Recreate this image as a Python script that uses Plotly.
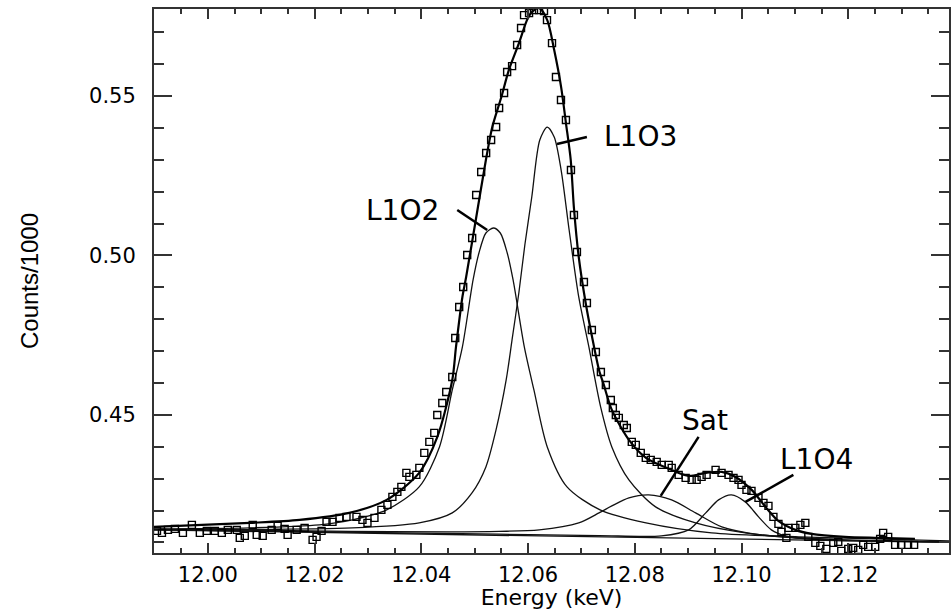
import plotly.graph_objects as go

# ---------------- data ----------------
data_energy = [11.99047, 11.99140, 11.99252, 11.99383, 11.99533, 11.99701, 11.99850, 11.99981,
               12.00131, 12.00262, 12.00374, 12.00542, 12.00598, 12.00692, 12.00841, 12.00916,
               12.01028, 12.01196, 12.01308, 12.01439, 12.01495, 12.01664, 12.01813, 12.01963,
               12.02037, 12.02131, 12.02224, 12.02336, 12.02467, 12.02598, 12.02785, 12.02897,
               12.02991, 12.03122, 12.03252, 12.03365, 12.03458, 12.03551, 12.03626, 12.03720,
               12.03776, 12.03907, 12.03963, 12.04056, 12.04150, 12.04243, 12.04299, 12.04393,
               12.04467, 12.04580, 12.04636, 12.04710, 12.04785, 12.04860, 12.04953, 12.05028,
               12.05122, 12.05215, 12.05308, 12.05402, 12.05458, 12.05551, 12.05608, 12.05701,
               12.05795, 12.05869, 12.05925, 12.06019, 12.06112, 12.06206, 12.06299, 12.06355,
               12.06449, 12.06523, 12.06617, 12.06710, 12.06804, 12.06860, 12.06916, 12.07047,
               12.07103, 12.07196, 12.07271, 12.07365, 12.07458, 12.07551, 12.07589, 12.07645,
               12.07701, 12.07794, 12.07851, 12.07944, 12.08019, 12.08112, 12.08206, 12.08299,
               12.08411, 12.08505, 12.08636, 12.08692, 12.08822, 12.08953, 12.09066, 12.09159,
               12.09252, 12.09346, 12.09514, 12.09626, 12.09757, 12.09850, 12.09944, 12.10000,
               12.10093, 12.10187, 12.10318, 12.10411, 12.10505, 12.10598, 12.10692, 12.10748,
               12.10841, 12.10879, 12.11009, 12.11103, 12.11196, 12.11252, 12.11383, 12.11477,
               12.11589, 12.11720, 12.11813, 12.11869, 12.12000, 12.12093, 12.12187, 12.12280,
               12.12374, 12.12505, 12.12598, 12.12654, 12.12748, 12.12879, 12.12991, 12.13121,
               12.13234]
data_counts = [0.41364, 0.41301, 0.41395, 0.41426, 0.41301, 0.41552, 0.41301, 0.41364,
               0.41364, 0.41301, 0.41395, 0.41395, 0.41144, 0.41207, 0.41552, 0.41238,
               0.41207, 0.41395, 0.41520, 0.41426, 0.41238, 0.41395, 0.41458, 0.41082,
               0.41176, 0.41364, 0.41646, 0.41646, 0.41771, 0.41803, 0.41803, 0.41708,
               0.41614, 0.41771, 0.42022, 0.42179, 0.42429, 0.42586, 0.42743, 0.43182,
               0.43056, 0.43119, 0.43339, 0.43809, 0.44154, 0.44436, 0.45000, 0.45376,
               0.45721, 0.46191, 0.47414, 0.48386, 0.49012, 0.50016, 0.50549, 0.51896,
               0.52618, 0.53213, 0.53621, 0.54028, 0.54624, 0.55094, 0.55752, 0.55940,
               0.56599, 0.57132, 0.57539, 0.57602, 0.57696, 0.57696, 0.57665, 0.57382,
               0.56661, 0.55596, 0.54875, 0.54248, 0.52680, 0.51270, 0.50110, 0.49169,
               0.48511, 0.47665, 0.46975, 0.46348, 0.45940, 0.45470, 0.45219, 0.45000,
               0.44906, 0.44686, 0.44592, 0.44154, 0.44060, 0.43809, 0.43652, 0.43589,
               0.43527, 0.43433, 0.43433, 0.43339, 0.43119, 0.43025, 0.42962, 0.42962,
               0.43056, 0.43119, 0.43276, 0.43182, 0.43119, 0.43025, 0.42962, 0.42805,
               0.42649, 0.42617, 0.42398, 0.42241, 0.42147, 0.41803, 0.41583, 0.41332,
               0.41144, 0.41458, 0.41458, 0.41552, 0.41614, 0.41176, 0.40988, 0.40894,
               0.40800, 0.40988, 0.41019, 0.40737, 0.40800, 0.40831, 0.40768, 0.40925,
               0.40862, 0.40862, 0.41113, 0.41301, 0.41176, 0.40925, 0.40925, 0.40925,
               0.40925]

fit_energy = [11.9899, 12.0079, 12.0172, 12.0265, 12.0335, 12.0396, 12.0430, 12.0458, 12.0465,
              12.0477, 12.0484, 12.0503, 12.0521, 12.0533, 12.0550, 12.0564, 12.0583, 12.0598,
              12.0607, 12.0621, 12.0636, 12.0649, 12.0662, 12.0671, 12.0680, 12.0686, 12.0695,
              12.0708, 12.0720, 12.0733, 12.0742, 12.0757, 12.0789, 12.0821, 12.0869, 12.0901,
              12.0933, 12.0963, 12.0989, 12.1019, 12.1045, 12.1069, 12.1101, 12.1131, 12.1194,
              12.1256, 12.1325]
fit_total = [0.41489, 0.41614, 0.41708, 0.41928, 0.42335, 0.43182, 0.44310, 0.46097, 0.47132,
             0.48699, 0.49326, 0.51207, 0.52994, 0.54028, 0.54969, 0.55815, 0.56661, 0.57382,
             0.57633, 0.57759, 0.57382, 0.56442, 0.55282, 0.54154, 0.52994, 0.51489, 0.49953,
             0.48511, 0.47445, 0.46411, 0.45940, 0.45157, 0.44216, 0.43652, 0.43276, 0.43088,
             0.43182, 0.43213, 0.43056, 0.42649, 0.42116, 0.41677, 0.41395, 0.41270, 0.41176,
             0.41144, 0.41113]

l1o2_energy = [11.9899, 12.0079, 12.0209, 12.0271, 12.0335, 12.0396, 12.0434, 12.0458, 12.0477,
               12.0497, 12.0508, 12.0521, 12.0535, 12.0548, 12.0561, 12.0572, 12.0593, 12.0611,
               12.0636, 12.0673, 12.0735, 12.0821, 12.0944, 12.1107, 12.1389]
l1o2_counts = [0.41426, 0.41458, 0.41552, 0.41708, 0.42022, 0.42743, 0.43997, 0.45784, 0.47132,
               0.49232, 0.50078, 0.50705, 0.50862, 0.50705, 0.50078, 0.49232, 0.47132, 0.45784,
               0.43997, 0.42743, 0.42022, 0.41614, 0.41301, 0.41176, 0.41050]

l1o3_energy = [11.9899, 12.0271, 12.0396, 12.0458, 12.0495, 12.0521, 12.0540, 12.0559, 12.0570,
               12.0583, 12.0594, 12.0607, 12.0622, 12.0636, 12.0649, 12.0662, 12.0677, 12.0695,
               12.0714, 12.0736, 12.0757, 12.0789, 12.0839, 12.0914, 12.1007, 12.1131, 12.1389]
l1o3_counts = [0.41395, 0.41458, 0.41614, 0.41928, 0.42555, 0.43370, 0.44530, 0.46097, 0.47351,
               0.48856, 0.50329, 0.51834, 0.53621, 0.54028, 0.53715, 0.52680, 0.50799, 0.48699,
               0.47132, 0.45251, 0.43997, 0.42962, 0.42116, 0.41614, 0.41301, 0.41113, 0.41019]

sat_energy = [11.9899, 12.0265, 12.0452, 12.0546, 12.0621, 12.0695, 12.0733, 12.0757, 12.0789,
              12.0826, 12.0869, 12.0914, 12.0963, 12.1037, 12.1194, 12.1389]
sat_counts = [0.41420, 0.41348, 0.41332, 0.41348, 0.41395, 0.41614, 0.41928, 0.42147, 0.42398,
              0.42492, 0.42335, 0.41928, 0.41489, 0.41238, 0.41082, 0.41019]

l1o4_energy = [11.9899, 12.0546, 12.0733, 12.0850, 12.0901, 12.0933, 12.0957, 12.0981, 12.1007,
               12.1032, 12.1056, 12.1082, 12.1131, 12.1389]
l1o4_counts = [0.41401, 0.41260, 0.41216, 0.41207, 0.41395, 0.41928, 0.42335, 0.42492, 0.42273,
               0.41803, 0.41395, 0.41207, 0.41097, 0.41019]

baseline_energy = [11.9899, 12.1389]
baseline_counts = [0.41395, 0.41003]

peak_labels = ["L1O3", "L1O2", "Sat", "L1O4"]

# ---------------- layout helpers (positions / styles) ----------------
label_pos = {"L1O3": (12.0811, 0.53746), "L1O2": (12.03645, 0.51426),
             "Sat": (12.09308, 0.44812), "L1O4": (12.11402, 0.43589)}
leader = {"L1O3": ((12.06542, 0.53495), (12.07103, 0.53715)),
          "L1O2": ((12.04673, 0.51426), (12.05234, 0.50799)),
          "Sat": ((12.09196, 0.44310), (12.08486, 0.42461)),
          "L1O4": ((12.10972, 0.43119), (12.10075, 0.42273))}

fig = go.Figure()

comp_line = dict(color="#111111", width=1.3)
for ex, cy in [(baseline_energy, baseline_counts), (l1o2_energy, l1o2_counts),
               (l1o3_energy, l1o3_counts), (sat_energy, sat_counts),
               (l1o4_energy, l1o4_counts)]:
    fig.add_trace(go.Scatter(x=ex, y=cy, mode="lines", line=dict(comp_line, shape="spline", smoothing=0.8),
                             showlegend=False, hoverinfo="skip"))

fig.add_trace(go.Scatter(x=fit_energy, y=fit_total, mode="lines",
                         line=dict(color="#000000", width=2.2, shape="spline", smoothing=0.8),
                         showlegend=False))

fig.add_trace(go.Scatter(x=data_energy, y=data_counts, mode="markers",
                         marker=dict(symbol="square-open", size=7, color="#000000",
                                     line=dict(width=1.4, color="#000000")),
                         showlegend=False))

for name in peak_labels:
    tx, ty = label_pos[name]
    fig.add_annotation(x=tx, y=ty, xref="x", yref="y", text=name, showarrow=False,
                       font=dict(family="DejaVu Sans", size=28, color="#000000"),
                       xanchor="center", yanchor="middle")
    (x0, y0), (x1, y1) = leader[name]
    fig.add_shape(type="line", xref="x", yref="y", x0=x0, y0=y0, x1=x1, y1=y1,
                  line=dict(color="#000000", width=2.5))

tickfont = dict(family="DejaVu Sans", size=21, color="#000000")
axis_common = dict(showline=True, linewidth=2, linecolor="#333333", mirror="ticks",
                   ticks="inside", tickcolor="#333333", tickwidth=2,
                   showgrid=False, zeroline=False, tickfont=tickfont, tickformat=".2f")

fig.update_xaxes(**axis_common, range=[11.98991, 12.13888], tick0=12.0, dtick=0.02, ticklen=10,
                 minor=dict(dtick=0.005, ticklen=5, ticks="inside", tickcolor="#333333", tickwidth=2),
                 ticklabelstandoff=2,
                 title=dict(text="Energy (keV)", font=dict(family="DejaVu Sans", size=22, color="#000000"),
                            standoff=2))
fig.update_yaxes(**axis_common, range=[0.4067, 0.5773], tick0=0.45, dtick=0.05, ticklen=18,
                 minor=dict(dtick=0.01, ticklen=10, ticks="inside", tickcolor="#333333", tickwidth=2),
                 ticklabelstandoff=12,
                 title=dict(text="Counts/1000", font=dict(family="Liberation Sans", size=24, color="#000000"),
                            standoff=44))

fig.update_layout(width=951, height=610, margin=dict(l=154, r=0, t=9, b=57),
                  plot_bgcolor="white", paper_bgcolor="white", showlegend=False)

fig.write_html("out.html")
